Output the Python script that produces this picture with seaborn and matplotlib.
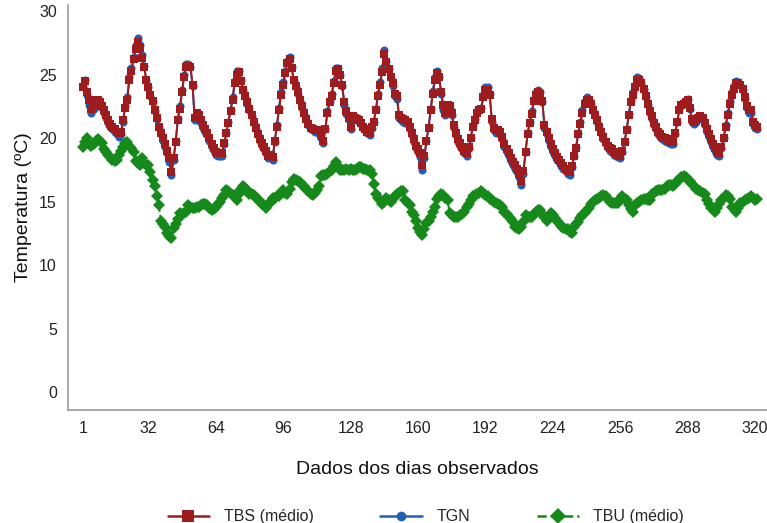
import numpy as np
import pandas as pd
import matplotlib
matplotlib.use("Agg")
import matplotlib.pyplot as plt
from matplotlib.lines import Line2D
from matplotlib import font_manager
import seaborn as sns

# ---- data ----
dias = list(range(1, 322))

tbs = [
    24.0, 24.5, 23.6, 23.0, 22.3, 22.5, 23.0, 23.0, 22.8, 22.5, 22.2, 21.8, 21.4, 21.1, 20.9, 20.7, 20.5, 20.4, 20.5, 21.4,
    22.4, 23.0, 24.6, 25.3, 26.2, 27.0, 27.6, 27.1, 26.3, 25.6, 24.6, 24.0, 23.4, 22.9, 22.2, 21.6, 20.9, 20.4, 20.0, 19.5,
    19.0, 18.4, 17.3, 18.4, 19.7, 21.4, 22.3, 23.6, 24.8, 25.6, 25.7, 25.6, 24.2, 21.6, 22.0, 21.8, 21.4, 21.0, 20.7, 20.4,
    20.0, 19.5, 19.2, 18.9, 18.8, 18.8, 18.8, 19.6, 20.4, 21.2, 22.1, 23.0, 24.3, 25.0, 25.2, 24.5, 23.8, 23.3, 22.8, 22.3,
    21.8, 21.3, 20.8, 20.3, 19.9, 19.6, 19.3, 19.0, 18.6, 18.7, 18.5, 19.8, 20.9, 22.2, 23.4, 24.2, 25.1, 25.9, 26.2, 25.5,
    24.6, 24.1, 23.6, 23.0, 22.5, 22.0, 21.5, 21.1, 20.8, 20.7, 20.6, 20.6, 20.6, 20.2, 19.8, 20.7, 22.0, 22.8, 23.3, 24.3,
    25.3, 25.4, 25.0, 24.2, 22.8, 22.1, 21.6, 20.9, 21.7, 21.6, 21.5, 21.4, 21.2, 20.9, 20.7, 20.5, 20.4, 20.9, 21.3, 22.2,
    23.3, 24.2, 25.2, 26.6, 26.0, 25.4, 24.8, 24.3, 23.5, 23.3, 21.8, 21.6, 21.5, 21.4, 21.3, 20.9, 20.4, 19.9, 19.4, 19.1,
    18.8, 17.9, 18.6, 19.8, 20.8, 22.2, 23.5, 24.6, 25.1, 24.8, 23.6, 22.6, 22.0, 22.6, 22.5, 22.0, 21.0, 20.4, 19.9, 19.6,
    19.3, 19.0, 18.8, 19.3, 20.0, 20.9, 21.4, 22.0, 22.2, 22.3, 23.2, 23.8, 23.8, 23.4, 21.5, 20.8, 20.6, 20.6, 20.5, 20.1,
    19.5, 19.1, 18.8, 18.4, 18.1, 17.9, 17.6, 17.2, 16.6, 17.4, 18.9, 20.3, 21.2, 21.9, 22.9, 23.4, 23.6, 23.5, 22.9, 21.0,
    20.5, 20.0, 19.5, 19.1, 18.8, 18.5, 18.3, 18.0, 17.8, 17.6, 17.4, 17.3, 17.8, 18.6, 19.2, 20.3, 21.1, 22.0, 22.7, 23.0,
    23.0, 22.7, 22.2, 21.8, 21.4, 20.9, 20.5, 20.1, 19.7, 19.4, 19.2, 19.1, 18.9, 18.8, 18.7, 18.6, 19.0, 19.7, 20.6, 21.8,
    22.8, 23.4, 24.0, 24.6, 24.6, 24.3, 23.9, 23.3, 22.7, 22.1, 21.7, 21.2, 20.9, 20.5, 20.3, 20.1, 20.0, 19.9, 19.8, 19.7,
    19.7, 20.4, 21.3, 22.2, 22.6, 22.7, 22.8, 23.0, 22.4, 21.5, 21.3, 21.5, 21.6, 21.7, 21.6, 21.2, 20.7, 20.3, 19.9, 19.5,
    19.2, 18.9, 18.8, 19.3, 20.0, 20.9, 21.8, 22.7, 23.4, 23.9, 24.3, 24.3, 24.2, 23.9, 23.2, 22.5, 22.2, 22.2, 21.3, 21.0,
    20.9,
]

tgn = [
    24.1, 24.6, 23.4, 22.6, 22.0, 22.3, 22.9, 23.0, 22.7, 22.4, 22.0, 21.6, 21.2, 20.9, 20.7, 20.5, 20.3, 20.1, 20.3, 21.3,
    22.5, 23.2, 24.8, 25.5, 26.4, 27.3, 27.9, 27.3, 26.5, 25.7, 24.6, 24.0, 23.3, 22.8, 22.1, 21.5, 20.8, 20.3, 19.8, 19.3,
    18.8, 18.1, 17.1, 18.3, 19.8, 21.5, 22.5, 23.8, 25.0, 25.8, 25.8, 25.6, 24.1, 21.4, 21.8, 21.6, 21.2, 20.8, 20.5, 20.2,
    19.8, 19.3, 19.0, 18.7, 18.6, 18.6, 18.6, 19.5, 20.4, 21.3, 22.2, 23.2, 24.5, 25.3, 25.3, 24.6, 23.8, 23.2, 22.7, 22.2,
    21.7, 21.2, 20.7, 20.2, 19.8, 19.4, 19.1, 18.8, 18.4, 18.4, 18.3, 19.7, 21.0, 22.4, 23.6, 24.4, 25.3, 26.1, 26.4, 25.6,
    24.6, 24.0, 23.5, 22.9, 22.4, 21.9, 21.4, 21.0, 20.7, 20.6, 20.5, 20.5, 20.4, 20.0, 19.6, 20.7, 22.1, 22.9, 23.5, 24.5,
    25.5, 25.5, 25.0, 24.1, 22.6, 21.9, 21.4, 20.7, 21.6, 21.5, 21.4, 21.3, 21.1, 20.8, 20.6, 20.4, 20.2, 20.8, 21.3, 22.3,
    23.5, 24.4, 25.5, 26.9, 26.1, 25.4, 24.7, 24.1, 23.3, 23.1, 21.6, 21.4, 21.3, 21.2, 21.1, 20.7, 20.2, 19.7, 19.2, 18.9,
    18.5, 17.5, 18.4, 19.8, 20.9, 22.3, 23.7, 24.8, 25.3, 24.8, 23.5, 22.2, 21.8, 22.5, 22.4, 21.8, 20.8, 20.2, 19.7, 19.4,
    19.1, 18.8, 18.6, 19.2, 20.0, 21.0, 21.5, 22.1, 22.3, 22.4, 23.4, 24.0, 24.0, 23.5, 21.3, 20.6, 20.4, 20.4, 20.3, 19.9,
    19.3, 18.9, 18.6, 18.2, 17.9, 17.6, 17.3, 16.9, 16.3, 17.2, 18.9, 20.4, 21.3, 22.1, 23.1, 23.6, 23.8, 23.6, 22.8, 20.8,
    20.3, 19.8, 19.3, 18.9, 18.6, 18.3, 18.1, 17.8, 17.6, 17.4, 17.2, 17.1, 17.7, 18.6, 19.3, 20.4, 21.3, 22.2, 22.9, 23.2,
    23.1, 22.7, 22.1, 21.7, 21.3, 20.8, 20.4, 19.9, 19.5, 19.2, 19.0, 18.9, 18.7, 18.6, 18.5, 18.4, 18.9, 19.7, 20.7, 21.9,
    23.0, 23.6, 24.2, 24.8, 24.7, 24.3, 23.9, 23.2, 22.6, 22.0, 21.5, 21.0, 20.7, 20.3, 20.1, 19.9, 19.8, 19.7, 19.6, 19.5,
    19.5, 20.3, 21.3, 22.3, 22.7, 22.8, 22.9, 23.1, 22.3, 21.3, 21.1, 21.3, 21.5, 21.6, 21.5, 21.0, 20.5, 20.1, 19.7, 19.3,
    19.0, 18.7, 18.6, 19.2, 20.0, 21.0, 22.0, 22.9, 23.6, 24.1, 24.5, 24.4, 24.2, 23.8, 23.1, 22.4, 22.0, 22.0, 21.1, 20.8,
    20.7,
]

tbu = [
    19.3, 19.7, 20.0, 19.5, 19.4, 19.5, 19.8, 19.9, 19.8, 19.6, 19.1, 18.9, 18.7, 18.5, 18.3, 18.2, 18.3, 18.7, 19.0, 19.3,
    19.6, 19.7, 19.4, 19.2, 18.9, 18.2, 18.0, 17.9, 18.4, 18.0, 17.9, 17.9, 17.3, 16.7, 16.2, 15.4, 14.7, 13.5, 13.2, 13.0,
    12.5, 12.3, 12.1, 12.9, 13.2, 13.6, 14.1, 14.0, 14.1, 14.2, 14.7, 14.6, 14.5, 14.5, 14.6, 14.6, 14.7, 14.8, 14.8, 14.7,
    14.5, 14.3, 14.4, 14.6, 14.8, 15.0, 15.3, 15.5, 15.9, 15.8, 15.6, 15.5, 15.5, 15.1, 15.6, 16.0, 16.2, 16.1, 15.9, 15.6,
    15.6, 15.5, 15.3, 15.2, 15.0, 14.8, 14.7, 14.5, 14.8, 15.0, 15.3, 15.3, 15.4, 15.4, 15.7, 15.9, 15.7, 15.6, 16.0, 16.5,
    16.8, 16.7, 16.6, 16.5, 16.3, 16.2, 16.0, 15.8, 15.6, 15.5, 15.7, 15.9, 16.2, 17.0, 17.1, 17.1, 17.2, 17.4, 17.5, 17.8,
    18.1, 17.8, 17.5, 17.5, 17.5, 17.6, 17.5, 17.6, 17.5, 17.5, 17.6, 17.7, 17.7, 17.6, 17.6, 17.5, 17.5, 17.2, 16.4, 15.6,
    15.3, 15.1, 14.8, 15.0, 15.3, 15.1, 15.0, 15.2, 15.4, 15.6, 15.7, 15.8, 15.8, 15.1, 14.9, 14.7, 14.2, 13.9, 13.5, 12.9,
    12.6, 12.4, 12.8, 13.3, 13.5, 13.8, 14.2, 14.6, 15.2, 15.4, 15.6, 15.5, 15.3, 15.1, 14.1, 13.9, 13.8, 13.8, 13.8, 13.9,
    14.0, 14.2, 14.6, 14.8, 15.1, 15.4, 15.5, 15.6, 15.7, 15.8, 15.7, 15.5, 15.4, 15.2, 15.1, 15.0, 14.9, 14.8, 14.7, 14.6,
    14.2, 14.0, 13.8, 13.6, 13.4, 13.0, 12.9, 12.8, 13.0, 13.4, 13.9, 13.8, 13.8, 13.8, 14.0, 14.2, 14.3, 14.3, 14.0, 13.8,
    13.5, 13.8, 14.1, 13.9, 13.7, 13.5, 13.3, 13.1, 12.9, 12.8, 12.8, 12.6, 12.5, 13.0, 13.2, 13.4, 13.7, 13.9, 14.1, 14.3,
    14.5, 14.8, 15.0, 15.1, 15.2, 15.3, 15.4, 15.5, 15.4, 15.2, 15.0, 14.9, 14.9, 14.9, 14.9, 15.2, 15.4, 15.2, 15.1, 14.7,
    14.4, 14.2, 14.7, 14.9, 15.0, 15.1, 15.2, 15.2, 15.1, 15.1, 15.6, 15.7, 15.8, 15.9, 15.9, 15.9, 16.0, 16.2, 16.3, 16.3,
    16.2, 16.4, 16.6, 16.7, 16.9, 17.0, 16.9, 16.7, 16.6, 16.4, 16.2, 16.0, 15.9, 15.8, 15.7, 15.6, 15.1, 14.8, 14.5, 14.4,
    14.2, 14.5, 14.8, 15.1, 15.3, 15.5, 15.4, 15.2, 14.6, 14.4, 14.2, 14.5, 14.9, 15.0, 15.1, 15.2, 15.3, 15.4, 15.3, 15.1,
    15.2,
]

x_ticks = [1, 32, 64, 96, 128, 160, 192, 224, 256, 288, 320]
y_ticks = [0, 5, 10, 15, 20, 25, 30]
series_names = ["TBS (médio)", "TGN", "TBU (médio)"]

# ---- style ----
sns.set_style("white")
# use a condensed face if one is installed, otherwise Liberation Sans
names = {f.name for f in font_manager.fontManager.ttflist}
cond = [f for f in font_manager.fontManager.ttflist
        if f.name in ("Liberation Sans Narrow", "DejaVu Sans") and f.stretch in ("condensed", "semi-condensed", 600, 500)]
if "Liberation Sans Narrow" in names:
    plt.rcParams["font.family"] = ["Liberation Sans Narrow", "DejaVu Sans"]
    fs_tick, fs_lab, fs_leg = 13, 15, 12.5
else:
    plt.rcParams["font.family"] = ["Liberation Sans", "DejaVu Sans"]
    fs_tick, fs_lab, fs_leg = 11.5, 14, 11.5

c_tbs = "#9E1B1E"
c_tgn = "#1F5FB8"
c_tbu = "#158A1A"

fig = plt.figure(figsize=(7.67, 5.23), dpi=100)
ax = fig.add_axes([0.0887, 0.216, 0.9113, 0.775])

df = pd.DataFrame({"dia": dias, "TBS": tbs, "TGN": tgn, "TBU": tbu})

sns.lineplot(data=df, x="dia", y="TGN", ax=ax, color=c_tgn, lw=1.4,
             marker="o", markersize=5.8, markeredgewidth=0, markerfacecolor=c_tgn, zorder=2)
sns.lineplot(data=df, x="dia", y="TBS", ax=ax, color=c_tbs, lw=1.4,
             marker="s", markersize=5.8, markeredgewidth=0, markerfacecolor=c_tbs, zorder=3)
sns.lineplot(data=df, x="dia", y="TBU", ax=ax, color=c_tbu, lw=1.4, linestyle="--",
             marker="D", markersize=6.4, markeredgewidth=0, markerfacecolor=c_tbu, zorder=3)

ax.set_xlim(-6.1, 325.6)
ax.set_ylim(-1.42, 30.5)
ax.set_xticks(x_ticks)
ax.set_xticklabels([str(t) for t in x_ticks])
ax.set_yticks(y_ticks)
ax.set_yticklabels([str(t) for t in y_ticks])

for s in ["top", "right"]:
    ax.spines[s].set_visible(False)
for s in ["left", "bottom"]:
    ax.spines[s].set_color("#9a9a9a")
    ax.spines[s].set_linewidth(1.2)

ax.tick_params(axis="both", which="major", direction="out", length=5, width=1,
               color="#9a9a9a", labelsize=fs_tick, labelcolor="#222222", pad=3)

ax.set_xlabel("Dados dos dias observados", fontsize=fs_lab, labelpad=18, color="#111111")
ax.set_ylabel("Temperatura (ºC)", fontsize=fs_lab, labelpad=5, color="#111111")
ax.grid(False)

handles = [
    Line2D([0], [0], color=c_tbs, lw=1.8, marker="s", markersize=8, markeredgewidth=0),
    Line2D([0], [0], color=c_tgn, lw=1.8, marker="o", markersize=7, markeredgewidth=0),
    Line2D([0], [0], color=c_tbu, lw=1.8, linestyle="--", marker="D", markersize=8, markeredgewidth=0),
]
fig.legend(handles, series_names, loc="lower center", bbox_to_anchor=(0.555, -0.03), ncol=3,
           frameon=False, fontsize=fs_leg, handlelength=2.6, columnspacing=4.2, handletextpad=0.9)

fig.savefig("out.png", dpi=100)
